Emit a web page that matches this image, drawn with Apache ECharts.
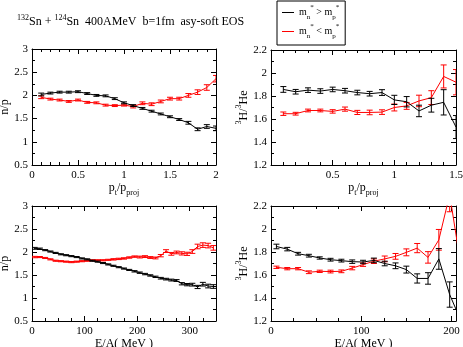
<!DOCTYPE html>
<html>
<head>
<meta charset="utf-8">
<script src="https://cdn.jsdelivr.net/npm/echarts@6/dist/echarts.min.js"></script>
<style>
html, body { margin: 0; padding: 0; background: #fff; }
#chart { width: 463px; height: 347px; }
</style>
</head>
<body>
<div id="chart"></div>
<script>
// ---- data: n/p and t/3He vs p_t/p_proj ----
var ptX = [0.1, 0.2, 0.3, 0.4, 0.5, 0.6, 0.7, 0.8, 0.9, 1.0, 1.1, 1.2, 1.3, 1.4, 1.5, 1.6, 1.7, 1.8, 1.9, 2.0];
var npPtBlack = [2.02, 2.05, 2.07, 2.07, 2.08, 2.04, 2.00, 1.99, 1.93, 1.84, 1.78, 1.72, 1.66, 1.60, 1.54, 1.48, 1.41, 1.27, 1.33, 1.29];
var npPtBlackErr = [0.03, 0.02, 0.02, 0.02, 0.02, 0.02, 0.02, 0.02, 0.02, 0.02, 0.02, 0.02, 0.02, 0.02, 0.02, 0.02, 0.03, 0.03, 0.04, 0.05];
var npPtRed = [1.96, 1.92, 1.90, 1.87, 1.90, 1.85, 1.84, 1.79, 1.78, 1.79, 1.76, 1.83, 1.81, 1.87, 1.93, 1.93, 2.00, 2.07, 2.17, 2.36];
var npPtRedErr = [0.03, 0.02, 0.02, 0.02, 0.02, 0.02, 0.02, 0.02, 0.02, 0.02, 0.03, 0.03, 0.03, 0.03, 0.03, 0.03, 0.04, 0.05, 0.06, 0.07];

var ptX2 = [0.1, 0.2, 0.3, 0.4, 0.5, 0.6, 0.7, 0.8, 0.9, 1.0, 1.1, 1.2, 1.3, 1.4, 1.5];
var hePtBlack = [1.857, 1.837, 1.851, 1.843, 1.857, 1.846, 1.83, 1.82, 1.83, 1.766, 1.75, 1.67, 1.72, 1.745, 1.53];
var hePtBlackErr = [0.025, 0.02, 0.02, 0.02, 0.02, 0.02, 0.02, 0.02, 0.025, 0.04, 0.045, 0.05, 0.06, 0.11, 0.1];
var hePtRed = [1.646, 1.646, 1.674, 1.674, 1.666, 1.686, 1.657, 1.657, 1.66, 1.70, 1.714, 1.757, 1.786, 1.97, 1.92];
var hePtRedErr = [0.015, 0.012, 0.012, 0.012, 0.015, 0.018, 0.018, 0.02, 0.02, 0.03, 0.03, 0.05, 0.06, 0.1, 0.11];

// ---- data: n/p and t/3He vs E/A ----
var eX = [5, 15, 25, 35, 45, 55, 65, 75, 85, 95, 105, 115, 125, 135, 145, 155, 165, 175, 185, 195,
  205, 215, 225, 235, 245, 255, 265, 275, 285, 295, 305, 315, 325, 335, 345];
var npEBlack = [2.08, 2.07, 2.04, 2.01, 1.98, 1.95, 1.93, 1.91, 1.89, 1.86, 1.84, 1.81, 1.79, 1.76, 1.73, 1.70, 1.67, 1.64, 1.61, 1.58,
  1.55, 1.52, 1.49, 1.46, 1.43, 1.41, 1.39, 1.38, 1.31, 1.29, 1.29, 1.24, 1.30, 1.26, 1.25];
var npEBlackErr = [0.02, 0.015, 0.012, 0.012, 0.012, 0.012, 0.012, 0.012, 0.012, 0.012, 0.012, 0.012, 0.012, 0.012, 0.012, 0.012, 0.012, 0.012, 0.012, 0.015,
  0.015, 0.015, 0.015, 0.015, 0.018, 0.018, 0.02, 0.02, 0.025, 0.025, 0.03, 0.035, 0.04, 0.04, 0.04];
var npERed = [1.89, 1.89, 1.87, 1.84, 1.81, 1.80, 1.79, 1.78, 1.79, 1.80, 1.81, 1.82, 1.82, 1.82, 1.83, 1.84, 1.85, 1.86, 1.88, 1.90,
  1.89, 1.90, 1.88, 1.87, 1.92, 2.02, 1.96, 1.99, 1.97, 1.96, 2.01, 2.12, 2.15, 2.14, 2.09];
var npERedErr = [0.015, 0.012, 0.012, 0.012, 0.012, 0.012, 0.012, 0.012, 0.012, 0.012, 0.012, 0.012, 0.012, 0.012, 0.012, 0.015, 0.015, 0.015, 0.015, 0.015,
  0.02, 0.02, 0.02, 0.02, 0.025, 0.03, 0.03, 0.03, 0.035, 0.035, 0.04, 0.05, 0.05, 0.05, 0.05];

var eX2 = [6, 18, 30, 42, 54, 66, 78, 90, 102, 114, 126, 138, 150, 162, 174, 186, 198, 210];
var heEBlack = [1.848, 1.825, 1.785, 1.768, 1.748, 1.733, 1.725, 1.716, 1.713, 1.727, 1.70, 1.68, 1.647, 1.57, 1.57, 1.74, 1.43, 1.21];
var heEBlackErr = [0.02, 0.015, 0.012, 0.012, 0.01, 0.012, 0.012, 0.015, 0.015, 0.02, 0.02, 0.025, 0.03, 0.04, 0.05, 0.09, 0.11, 0];
var heERed = [1.667, 1.655, 1.655, 1.624, 1.632, 1.63, 1.632, 1.66, 1.69, 1.72, 1.74, 1.762, 1.797, 1.834, 1.753, 1.906, 2.3, 1.7];
var heERedErr = [0.01, 0.01, 0.01, 0.012, 0.01, 0.012, 0.012, 0.015, 0.015, 0.02, 0.025, 0.025, 0.03, 0.04, 0.05, 0.09, 0.15, 0];

var FONT = 'Liberation Serif';
var BLACK = '#000000';
var RED = '#ff0000';

var grids = [
  { left: 32, top: 49, width: 184, height: 116 },
  { left: 271, top: 50, width: 185, height: 115 },
  { left: 32, top: 206, width: 184, height: 115 },
  { left: 271, top: 206, width: 185, height: 115 }
];

var supRich = {
  t: { fontFamily: FONT, fontSize: 12, color: '#000', lineHeight: 14, verticalAlign: 'bottom' },
  sp: { fontFamily: FONT, fontSize: 8, color: '#000', lineHeight: 14, verticalAlign: 'top' },
  sb: { fontFamily: FONT, fontSize: 8, color: '#000', lineHeight: 14, verticalAlign: 'bottom', padding: [0, 0, -3, 0] }
};

function xAxes(g, min, max, interval, minor, name, gap, hideMin, hideMax) {
  var base = {
    gridIndex: g, type: 'value', min: min, max: max, interval: interval,
    axisLine: { show: true, onZero: false, lineStyle: { color: BLACK, width: 1 } },
    axisTick: { show: true, inside: true, length: 5, lineStyle: { color: BLACK } },
    minorTick: { show: true, splitNumber: minor, length: 3, lineStyle: { color: BLACK } },
    splitLine: { show: false }
  };
  var bottom = Object.assign({}, base, {
    position: 'bottom',
    axisLabel: { color: '#000', fontFamily: FONT, fontSize: 11, margin: 5, showMinLabel: !hideMin, showMaxLabel: !hideMax },
    name: name, nameLocation: 'middle', nameGap: gap,
    nameTextStyle: { fontFamily: FONT, fontSize: 12, color: '#000', rich: supRich }
  });
  var top = Object.assign({}, base, { position: 'top', axisLabel: { show: false } });
  return [bottom, top];
}

function yAxes(g, min, max, interval, minor, name, gap) {
  var base = {
    gridIndex: g, type: 'value', min: min, max: max, interval: interval,
    axisLine: { show: true, onZero: false, lineStyle: { color: BLACK, width: 1 } },
    axisTick: { show: true, inside: true, length: 5, lineStyle: { color: BLACK } },
    minorTick: { show: true, splitNumber: minor, length: 3, lineStyle: { color: BLACK } },
    splitLine: { show: false }
  };
  var left = Object.assign({}, base, {
    position: 'left',
    axisLabel: { color: '#000', fontFamily: FONT, fontSize: 11, margin: 4 },
    name: name, nameLocation: 'middle', nameGap: gap, nameRotate: 90,
    nameTextStyle: { fontFamily: FONT, fontSize: 12, color: '#000', rich: supRich }
  });
  var right = Object.assign({}, base, { position: 'right', axisLabel: { show: false } });
  return [left, right];
}

function pairs(xs, ys) {
  return xs.map(function (x, i) { return [x, ys[i]]; });
}

function errs(xs, ys, es) {
  return xs.map(function (x, i) { return [x, ys[i] - es[i], ys[i] + es[i]]; });
}

function renderErr(params, api) {
  var x = api.value(0);
  var lo = api.coord([x, api.value(1)]);
  var hi = api.coord([x, api.value(2)]);
  var hw = 3;
  var st = { stroke: api.visual('color'), lineWidth: 1 };
  return {
    type: 'group',
    children: [
      { type: 'line', shape: { x1: lo[0], y1: lo[1], x2: hi[0], y2: hi[1] }, style: st },
      { type: 'line', shape: { x1: lo[0] - hw, y1: lo[1], x2: lo[0] + hw, y2: lo[1] }, style: st },
      { type: 'line', shape: { x1: hi[0] - hw, y1: hi[1], x2: hi[0] + hw, y2: hi[1] }, style: st }
    ]
  };
}

function panelSeries(g, xs, blk, blkErr, red, redErr) {
  var xi = g * 2, yi = g * 2;
  return [
    { name: 'gt', type: 'line', xAxisIndex: xi, yAxisIndex: yi, symbol: 'none', clip: true,
      lineStyle: { color: BLACK, width: 1 }, itemStyle: { color: BLACK }, data: pairs(xs, blk), z: 3 },
    { name: 'lt', type: 'line', xAxisIndex: xi, yAxisIndex: yi, symbol: 'none', clip: true,
      lineStyle: { color: RED, width: 1 }, itemStyle: { color: RED }, data: pairs(xs, red), z: 2 },
    { name: 'errGt', type: 'custom', xAxisIndex: xi, yAxisIndex: yi, clip: true, renderItem: renderErr,
      itemStyle: { color: BLACK }, encode: { x: 0, y: [1, 2] }, data: errs(xs, blk, blkErr), z: 3 },
    { name: 'errLt', type: 'custom', xAxisIndex: xi, yAxisIndex: yi, clip: true, renderItem: renderErr,
      itemStyle: { color: RED }, encode: { x: 0, y: [1, 2] }, data: errs(xs, red, redErr), z: 2 }
  ];
}

var ptName = '{t|p}{sb|t}{t|/p}{sb|proj}';
var eName = 'E/A( MeV )';
var heName = '{sp|3}{t|H/}{sp|3}{t|He}';

var option = {
  animation: false,
  backgroundColor: '#ffffff',
  title: {
    text: '{sp|132}{t|Sn + }{sp|124}{t|Sn  400AMeV  b=1fm  asy-soft EOS}',
    left: 12, top: 9,
    textStyle: { fontFamily: FONT, fontSize: 12, fontWeight: 'normal', color: '#000', rich: supRich }
  },
  legend: {
    data: ['gt', 'lt'],
    orient: 'vertical',
    left: 277, top: 1,
    padding: [3, 6, 5, 5],
    itemGap: 2,
    itemWidth: 12,
    itemHeight: 1,
    icon: 'rect',
    borderColor: '#000', borderWidth: 1,
    formatter: function (name) {
      if (name === 'gt') return '{m|m}{s|n}{p|*}{m| > m}{s|p}{p|*}';
      return '{m|m}{s|n}{p|*}{m| < m}{s|p}{p|*}';
    },
    textStyle: {
      fontFamily: FONT, color: '#000',
      rich: {
        m: { fontFamily: FONT, fontSize: 10, lineHeight: 17, verticalAlign: 'middle', color: '#000' },
        s: { fontFamily: FONT, fontSize: 7, lineHeight: 17, verticalAlign: 'bottom', color: '#000' },
        p: { fontFamily: FONT, fontSize: 7, lineHeight: 17, verticalAlign: 'top', color: '#000' }
      }
    }
  },
  grid: grids.map(function (g) {
    return Object.assign({ containLabel: false, outerBoundsMode: 'none' }, g);
  }),
  xAxis: [].concat(
    xAxes(0, 0, 2, 0.5, 5, ptName, 15, false, false),
    xAxes(1, 0, 1.5, 0.5, 5, ptName, 15, true, false),
    xAxes(2, 0, 350, 100, 4, eName, 15, false, true),
    xAxes(3, 0, 205, 100, 4, eName, 15, false, true)
  ),
  yAxis: [].concat(
    yAxes(0, 0.5, 3, 0.5, 2, 'n/p', 15),
    yAxes(1, 1.2, 2.2, 0.2, 2, heName, 20),
    yAxes(2, 0.5, 3, 0.5, 2, 'n/p', 15),
    yAxes(3, 1.2, 2.2, 0.2, 2, heName, 20)
  ),
  series: [].concat(
    panelSeries(0, ptX, npPtBlack, npPtBlackErr, npPtRed, npPtRedErr),
    panelSeries(1, ptX2, hePtBlack, hePtBlackErr, hePtRed, hePtRedErr),
    panelSeries(2, eX, npEBlack, npEBlackErr, npERed, npERedErr),
    panelSeries(3, eX2, heEBlack, heEBlackErr, heERed, heERedErr)
  )
};

var chart = echarts.init(document.getElementById('chart'), null, { renderer: 'canvas' });
chart.setOption(option);
</script>
</body>
</html>
